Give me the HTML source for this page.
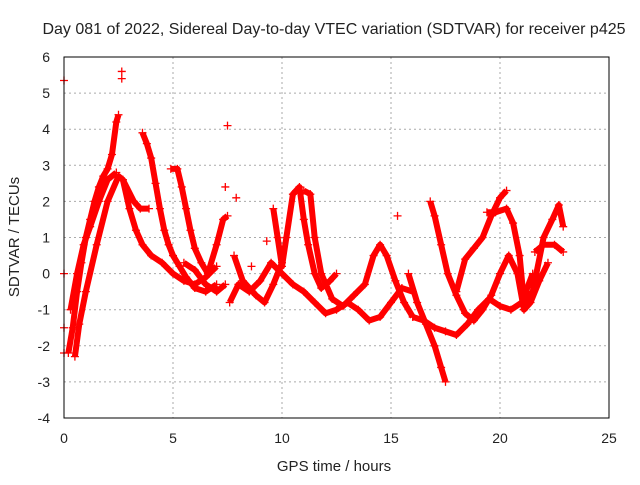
<!DOCTYPE html>
<html><head><meta charset="utf-8"><style>
body{margin:0;background:#fff;}
svg text{font-family:"Liberation Sans",sans-serif;font-size:14px;fill:#222;}
</style></head><body>
<svg id="chart" width="640" height="480">
<text x="334" y="34" text-anchor="middle" style="font-size:16px">Day 081 of 2022, Sidereal Day-to-day VTEC variation (SDTVAR) for receiver p425</text>
<text x="334" y="471" text-anchor="middle" style="font-size:15px">GPS time / hours</text>
<text transform="translate(19,237) rotate(-90)" text-anchor="middle" style="font-size:15px">SDTVAR / TECUs</text>
<g id="grid"></g><g id="ticks"></g><g id="marks"></g>
<rect x="64" y="57" width="545" height="361" fill="none" stroke="#000" stroke-width="1"/>
</svg>
<script>
const xTicks=[0,5,10,15,20,25];
const yTicks=[-4,-3,-2,-1,0,1,2,3,4,5,6];
const traceA=[[0.2,-2.2],[0.4,-1.5],[0.6,-0.5],[0.8,0.3],[1.0,1.0],[1.2,1.5],[1.4,2.0],[1.6,2.4],[1.8,2.7],[2.0,2.9],[2.2,3.3],[2.4,4.2],[2.5,4.4]];
const traceA2=[[0.5,-2.3],[0.7,-1.4],[1.0,-0.5],[1.5,0.8],[2.0,2.0],[2.5,2.7],[2.7,2.6],[3.0,1.8],[3.3,1.2],[3.6,0.8],[4.0,0.5],[4.5,0.3],[5.0,0.0],[5.5,-0.2],[6.0,-0.3],[6.5,-0.1],[7.0,0.2]];
const traceM=[[0.3,-1.0],[0.6,0.0],[0.9,0.8],[1.2,1.3],[1.6,2.0],[2.0,2.6],[2.4,2.8]];
const traceB=[[3.6,3.9],[3.8,3.6],[4.0,3.2],[4.2,2.5],[4.4,1.8],[4.6,1.2],[4.8,0.8],[5.0,0.5],[5.3,0.2],[5.6,-0.1],[6.0,-0.4],[6.5,-0.5],[7.0,-0.3]];
const traceC=[[4.9,2.9],[5.2,2.9],[5.4,2.4],[5.6,1.8],[5.8,1.2],[6.0,0.7],[6.3,0.3],[6.6,0.0],[7.0,0.8],[7.3,1.5],[7.5,1.6]];
const traceC2=[[2.7,2.6],[3.2,2.0],[3.5,1.8],[3.9,1.8]];
const traceN=[[5.5,0.3],[6.0,0.1],[6.5,-0.3],[7.0,-0.5],[7.4,-0.3]];
const traceD=[[7.6,-0.8],[8.0,-0.3],[8.5,-0.5],[9.0,-0.2],[9.5,0.3],[10.0,0.0],[10.5,-0.3],[11.0,-0.5],[11.5,-0.8],[12.0,-1.1],[12.5,-1.0],[13.0,-0.8],[13.5,-1.0],[14.0,-1.3],[14.5,-1.2],[15.0,-0.8],[15.5,-0.4],[16.0,-0.5]];
const traceO=[[7.8,0.5],[8.2,-0.2],[8.8,-0.6],[9.2,-0.8],[9.6,-0.3],[10.0,0.3]];
const traceE=[[9.6,1.8],[9.8,1.0],[10.0,0.2],[10.2,1.0],[10.5,2.2],[10.8,2.4],[11.0,1.5],[11.2,0.8],[11.5,0.0],[11.8,-0.4],[12.2,-0.2],[12.5,0.0]];
const traceF=[[11.0,2.3],[11.3,2.2],[11.5,1.0],[11.8,0.0],[12.3,-0.7],[12.8,-0.9],[13.3,-0.6],[13.8,-0.3],[14.2,0.5],[14.5,0.8],[14.8,0.5],[15.2,-0.2],[15.6,-0.8],[16.0,-1.2]];
const traceG=[[15.8,0.0],[16.2,-0.8],[16.6,-1.4],[17.0,-2.0],[17.3,-2.6],[17.5,-3.0]];
const traceH=[[16.8,2.0],[17.0,1.6],[17.3,0.8],[17.6,0.0],[18.0,-0.6],[18.4,-1.1],[18.8,-1.3],[19.2,-1.0],[19.6,-0.6],[20.0,0.0],[20.4,0.5],[20.8,0.0],[21.1,-1.0],[21.4,-0.8],[21.8,-0.2],[22.2,0.3]];
const traceI=[[16.0,-1.2],[16.5,-1.3],[17.0,-1.5],[17.5,-1.6],[18.0,-1.7],[18.5,-1.4],[19.0,-1.0],[19.5,-0.7],[20.0,-0.9],[20.5,-1.0],[21.0,-0.8],[21.5,0.0]];
const traceJ=[[18.0,-0.5],[18.4,0.4],[18.8,0.7],[19.2,1.0],[19.6,1.6],[20.0,2.1],[20.3,2.3]];
const traceK=[[19.4,1.7],[19.8,1.7],[20.3,1.8],[20.6,1.4],[20.9,0.5],[21.1,-0.8],[21.5,-0.5],[22.0,1.0],[22.4,1.5],[22.7,1.9],[22.9,1.3]];
const traceL=[[21.6,0.6],[22.0,0.8],[22.5,0.8],[22.9,0.6]];
const isolated=[[0,5.35],[0,0],[0,-1.5],[0,-2.2],[2.65,5.6],[2.65,5.4],[7.5,4.1],[7.4,2.4],[7.9,2.1],[15.3,1.6],[8.6,0.2],[9.3,0.9]];
const traces=[traceA,traceA2,traceM,traceB,traceC,traceC2,traceN,traceD,traceO,traceE,traceF,traceG,traceH,traceI,traceJ,traceK,traceL];
const NS='http://www.w3.org/2000/svg';
const L=64,R=609,T=57,B=418;
function xs(v){return L+(v-0)/(25-0)*(R-L);}
function ys(v){return B-(v+4)/(10)*(B-T);}
function el(t,a,p){const e=document.createElementNS(NS,t);for(const k in a)e.setAttribute(k,a[k]);p.appendChild(e);return e;}
const grid=document.getElementById('grid'),ticks=document.getElementById('ticks'),marks=document.getElementById('marks');
xTicks.forEach(v=>{const x=xs(v);
 if(v>0&&v<25){const g=el('line',{x1:x,x2:x,y1:T,y2:B,stroke:'#aaa','stroke-dasharray':'2,3'},grid);
 
 }
 const t=el('text',{x:x,y:B+25,'text-anchor':'middle'},ticks);t.textContent=v;
 
 });
yTicks.forEach(v=>{const y=ys(v);
 if(v>-4&&v<6){const g=el('line',{x1:L,x2:R,y1:y,y2:y,stroke:'#aaa','stroke-dasharray':'2,3'},grid);
 
 }
 const t=el('text',{x:L-14,y:y+5,'text-anchor':'end'},ticks);t.textContent=v;
 
 });
function plus(x,y,g){el('path',{d:`M${x-4},${y}H${x+4}M${x},${y-4}V${y+4}`,stroke:'#f00','stroke-width':1.3},g);}
traces.forEach((tr,i)=>{const g=el('g',{},marks);
 
 
 el('polyline',{points:tr.map(p=>xs(p[0])+','+ys(p[1])).join(' '),fill:'none',stroke:'#f00','stroke-width':6,'stroke-linejoin':'round'},g);
 tr.forEach(p=>plus(xs(p[0]),ys(p[1]),g));});
const ig=el('g',{},marks);


isolated.forEach(p=>plus(xs(p[0]),ys(p[1]),ig));
</script>
</body></html>
